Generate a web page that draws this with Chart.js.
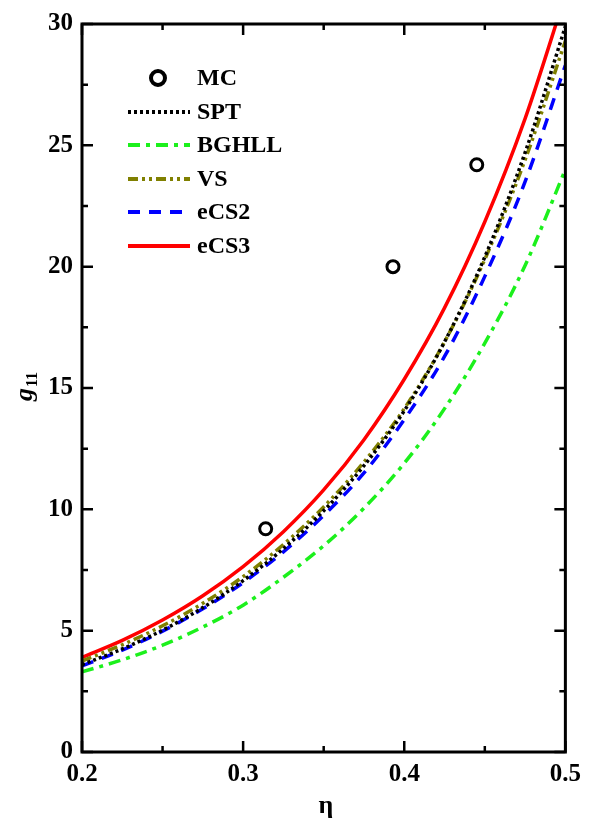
<!DOCTYPE html>
<html>
<head>
<meta charset="utf-8">
<title>g11 vs eta</title>
<script src="https://cdn.jsdelivr.net/npm/chart.js"></script>
<style>
  body { margin: 0; background: #fff; }
  canvas { display: block; }
</style>
</head>
<body>
<canvas id="chart" width="589" height="822"></canvas>
<script>
// packing fraction grid for the theory curves
const eta = [0.2, 0.225, 0.25, 0.275, 0.3, 0.325, 0.35, 0.375, 0.4, 0.425, 0.45, 0.475, 0.5];
const spt   = [3.6, 4.25, 5.02, 5.95, 7.06, 8.38, 9.94, 11.8, 14.06, 16.9, 20.4, 24.7, 29.9];
const bghll = [3.3, 3.8, 4.4, 5.15, 6.05, 7.2, 8.5, 10.05, 11.9, 14.15, 16.85, 20.05, 24.0];
const vs    = [3.75, 4.42, 5.2, 6.13, 7.23, 8.55, 10.1, 11.95, 14.15, 16.9, 20.3, 24.4, 29.3];
const ecs2  = [3.55, 4.2, 4.98, 5.9, 6.98, 8.25, 9.75, 11.5, 13.7, 16.3, 19.6, 23.5, 28.3];
const ecs3  = [3.9, 4.6, 5.44, 6.44, 7.64, 9.08, 10.8, 12.87, 15.36, 18.3, 21.85, 26.1, 31.2];

// simulation points
const mcEta = [0.314, 0.393, 0.445];
const mcG   = [9.2, 20.0, 24.2];

const xTicks = [0.2, 0.3, 0.4, 0.5];
const yTicks = [0, 5, 10, 15, 20, 25, 30];

const pts = (xs, ys) => xs.map((x, i) => ({ x: x, y: ys[i] }));
const FONT = '"Liberation Serif", "Times New Roman", serif';

function line(label, ys, color, dash, width) {
  return {
    label: label,
    data: pts(eta, ys),
    showLine: true,
    borderColor: color,
    backgroundColor: color,
    borderWidth: width || 3,
    borderDash: dash,
    borderCapStyle: 'butt',
    pointRadius: 0,
    cubicInterpolationMode: 'monotone',
    fill: false
  };
}

// axis frame, inward ticks, y title and legend
const framePlugin = {
  id: 'frame',
  afterDraw(chart) {
    const ctx = chart.ctx;
    const a = chart.chartArea;
    const xs = chart.scales.x, ys = chart.scales.y;
    ctx.save();
    ctx.strokeStyle = '#000';
    ctx.lineWidth = 3;
    ctx.strokeRect(a.left, a.top, a.right - a.left, a.bottom - a.top);

    ctx.lineWidth = 2.5;
    ctx.beginPath();
    for (let v = 0.2; v <= 0.5001; v += 0.05) {
      const px = xs.getPixelForValue(v);
      const major = Math.abs(v * 10 - Math.round(v * 10)) < 1e-6;
      const len = major ? 11 : 6;
      ctx.moveTo(px, a.bottom); ctx.lineTo(px, a.bottom - len);
      ctx.moveTo(px, a.top); ctx.lineTo(px, a.top + len);
    }
    for (let v = 0; v <= 30.001; v += 2.5) {
      const py = ys.getPixelForValue(v);
      const major = Math.abs(v % 5) < 1e-6;
      const len = major ? 11 : 6;
      ctx.moveTo(a.left, py); ctx.lineTo(a.left + len, py);
      ctx.moveTo(a.right, py); ctx.lineTo(a.right - len, py);
    }
    ctx.stroke();

    // y title: g with subscript 11
    ctx.save();
    ctx.translate(24, 388);
    ctx.rotate(-Math.PI / 2);
    ctx.fillStyle = '#000';
    ctx.textBaseline = 'alphabetic';
    ctx.font = 'italic bold 26px ' + FONT;
    ctx.textAlign = 'right';
    ctx.fillText('g', 0, 8);
    ctx.font = 'bold 16px ' + FONT;
    ctx.textAlign = 'left';
    ctx.fillText('11', 1, 13);
    ctx.restore();

    // x title
    ctx.fillStyle = '#000';
    ctx.font = 'bold 26px ' + FONT;
    ctx.textAlign = 'center';
    ctx.textBaseline = 'middle';
    ctx.fillText('\u03b7', 326, 806);

    // legend
    const rows = [78, 112, 145, 179, 212, 246];
    ctx.font = 'bold 24px ' + FONT;
    ctx.textAlign = 'left';
    chart.data.datasets.forEach((ds, i) => {
      const y = rows[i];
      if (ds.showLine) {
        ctx.strokeStyle = ds.borderColor;
        ctx.lineWidth = ds.borderWidth + 0.5;
        ctx.setLineDash(ds.borderDash || []);
        ctx.beginPath();
        ctx.moveTo(128, y); ctx.lineTo(190, y);
        ctx.stroke();
        ctx.setLineDash([]);
      } else {
        ctx.strokeStyle = '#000';
        ctx.lineWidth = 4;
        ctx.beginPath();
        ctx.arc(158, y, 7, 0, Math.PI * 2);
        ctx.stroke();
      }
      ctx.fillStyle = '#000';
      ctx.fillText(ds.label, 197, y + 1);
    });
    ctx.restore();
  }
};

new Chart(document.getElementById('chart'), {
  type: 'scatter',
  data: {
    datasets: [
      {
        label: 'MC',
        data: pts(mcEta, mcG),
        showLine: false,
        pointStyle: 'circle',
        pointRadius: 6,
        pointBorderWidth: 3,
        pointBorderColor: '#000',
        pointBackgroundColor: 'rgba(0,0,0,0)'
      },
      line('SPT', spt, '#000000', [3, 3], 3.5),
      line('BGHLL', bghll, '#1cf01c', [12, 6, 4, 6], 3.5),
      line('VS', vs, '#808000', [10, 4, 3, 4, 3, 4], 3.5),
      line('eCS2', ecs2, '#0000ff', [12, 9], 3.5),
      line('eCS3', ecs3, '#ff0000', [], 3.5)
    ]
  },
  options: {
    responsive: false,
    animation: false,
    layout: { padding: { left: 0, top: 17, right: 19, bottom: 0 } },
    plugins: { legend: { display: false }, tooltip: { enabled: false } },
    scales: {
      x: {
        type: 'linear',
        min: 0.2, max: 0.5,
        afterFit(s) { s.height = 70; },
        afterBuildTicks(s) { s.ticks = xTicks.map(v => ({ value: v })); },
        grid: { display: false, drawTicks: false },
        border: { display: false },
        ticks: {
          padding: 8,
          color: '#000',
          font: { family: FONT, size: 25, weight: 'bold' },
          callback: v => v.toFixed(1)
        }
      },
      y: {
        type: 'linear',
        min: 0, max: 30,
        afterFit(s) { s.width = 82; },
        afterBuildTicks(s) { s.ticks = yTicks.map(v => ({ value: v })); },
        grid: { display: false, drawTicks: false },
        border: { display: false },
        ticks: {
          padding: 9,
          color: '#000',
          font: { family: FONT, size: 25, weight: 'bold' },
          callback: v => String(v)
        }
      }
    }
  },
  plugins: [framePlugin]
});
</script>
</body>
</html>
